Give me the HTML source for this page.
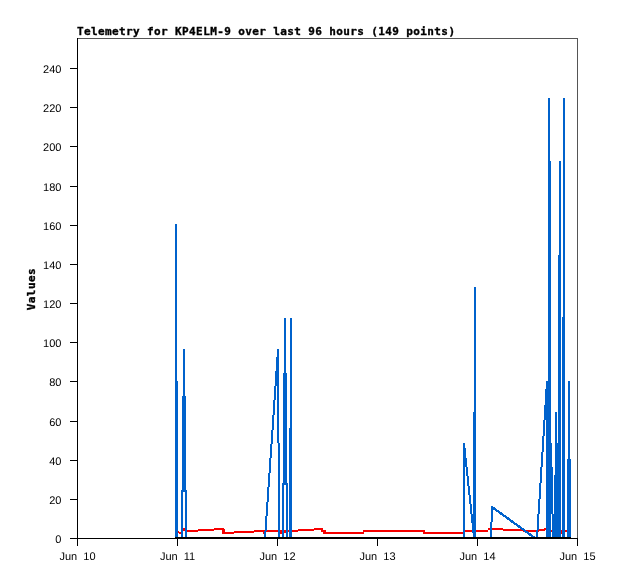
<!DOCTYPE html>
<html lang="en">
<head>
<meta charset="utf-8">
<title>Telemetry for KP4ELM-9</title>
<style>
html,body{margin:0;padding:0;background:#ffffff;}
body{width:618px;height:579px;overflow:hidden;}
svg{display:block;}
</style>
</head>
<body>
<svg width="618" height="579" viewBox="0 0 618 579" shape-rendering="crispEdges">
<rect x="0" y="0" width="618" height="579" fill="#ffffff"/>
<g fill="#f80000"><rect x="178" y="531" width="1" height="2"/><rect x="179" y="532" width="2" height="2"/><rect x="181" y="528" width="6" height="2"/><rect x="187" y="530" width="11" height="2"/><rect x="198" y="529" width="16" height="2"/><rect x="214" y="528" width="10" height="2"/><rect x="224" y="532" width="10" height="2"/><rect x="234" y="531" width="20" height="2"/><rect x="254" y="530" width="44" height="2"/><rect x="298" y="529" width="16" height="2"/><rect x="314" y="528" width="9" height="2"/><rect x="323" y="532" width="41" height="2"/><rect x="364" y="530" width="60" height="2"/><rect x="424" y="532" width="41" height="2"/><rect x="465" y="530" width="23" height="2"/><rect x="488" y="528" width="15" height="2"/><rect x="503" y="529" width="20" height="2"/><rect x="523" y="530" width="16" height="2"/><rect x="539" y="529" width="6" height="2"/><rect x="544" y="528" width="3" height="2"/><rect x="547" y="530" width="20" height="2"/><rect x="181" y="528" width="1" height="5"/><rect x="183" y="528" width="2" height="3"/><rect x="222" y="528" width="2" height="6"/><rect x="224" y="529" width="1" height="5"/><rect x="321" y="530" width="5" height="2"/><rect x="363" y="530" width="1" height="4"/><rect x="423" y="530" width="2" height="4"/><rect x="464" y="530" width="1" height="4"/><rect x="263" y="530" width="2" height="4"/><rect x="280" y="532" width="2" height="2"/><rect x="284" y="531" width="2" height="2"/><rect x="561" y="530" width="1" height="4"/></g>
<g fill="#0062cc"><rect x="175" y="224" width="2" height="313"/><rect x="177" y="381" width="1" height="156"/><rect x="183" y="349" width="2" height="47"/><rect x="182" y="396" width="4" height="94"/><rect x="181" y="490" width="6" height="2"/><rect x="181" y="490" width="2" height="47"/><rect x="185" y="490" width="2" height="47"/><rect x="277" y="349" width="2" height="8"/><rect x="276" y="357" width="2" height="14"/><rect x="275" y="371" width="2" height="15"/><rect x="274" y="386" width="2" height="14"/><rect x="273" y="400" width="2" height="15"/><rect x="272" y="415" width="2" height="15"/><rect x="271" y="430" width="2" height="14"/><rect x="270" y="444" width="2" height="14"/><rect x="269" y="458" width="2" height="15"/><rect x="268" y="473" width="2" height="14"/><rect x="267" y="487" width="2" height="15"/><rect x="266" y="502" width="2" height="14"/><rect x="265" y="516" width="2" height="15"/><rect x="264" y="531" width="2" height="6"/><rect x="277" y="349" width="2" height="94"/><rect x="278" y="443" width="2" height="94"/><rect x="284" y="318" width="2" height="55"/><rect x="283" y="373" width="4" height="111"/><rect x="282" y="483" width="6" height="2"/><rect x="282" y="484" width="2" height="53"/><rect x="286" y="484" width="2" height="53"/><rect x="290" y="318" width="2" height="110"/><rect x="289" y="428" width="3" height="109"/><rect x="463" y="443" width="2" height="94"/><rect x="463" y="443" width="2" height="5"/><rect x="464" y="448" width="2" height="10"/><rect x="465" y="458" width="2" height="9"/><rect x="466" y="467" width="2" height="9"/><rect x="467" y="476" width="2" height="10"/><rect x="468" y="486" width="2" height="9"/><rect x="469" y="495" width="2" height="9"/><rect x="470" y="504" width="2" height="10"/><rect x="471" y="514" width="2" height="9"/><rect x="472" y="523" width="2" height="10"/><rect x="473" y="533" width="2" height="4"/><rect x="474" y="287" width="2" height="125"/><rect x="473" y="412" width="3" height="125"/><rect x="491" y="506" width="2" height="16"/><rect x="490" y="522" width="2" height="15"/><rect x="546" y="381" width="2" height="8"/><rect x="545" y="389" width="2" height="16"/><rect x="544" y="405" width="2" height="15"/><rect x="543" y="420" width="2" height="16"/><rect x="542" y="436" width="2" height="16"/><rect x="541" y="452" width="2" height="15"/><rect x="540" y="467" width="2" height="16"/><rect x="539" y="483" width="2" height="16"/><rect x="538" y="499" width="2" height="15"/><rect x="537" y="514" width="2" height="16"/><rect x="536" y="530" width="2" height="7"/><rect x="546" y="381" width="5" height="8"/><rect x="545" y="389" width="6" height="16"/><rect x="544" y="405" width="7" height="15"/><rect x="548" y="98" width="2" height="63"/><rect x="548" y="161" width="3" height="220"/><rect x="546" y="381" width="5" height="156"/><rect x="551" y="443" width="1" height="71"/><rect x="552" y="467" width="1" height="47"/><rect x="555" y="412" width="2" height="31"/><rect x="555" y="443" width="6" height="32"/><rect x="554" y="475" width="7" height="39"/><rect x="552" y="514" width="9" height="23"/><rect x="559" y="161" width="2" height="94"/><rect x="558" y="255" width="3" height="282"/><rect x="563" y="98" width="2" height="219"/><rect x="562" y="317" width="3" height="220"/><rect x="568" y="381" width="2" height="78"/><rect x="567" y="459" width="4" height="78"/></g>
<clipPath id="c"><rect x="78" y="39" width="499" height="498"/></clipPath>
<line x1="492" y1="507" x2="536" y2="538.8" stroke="#0062cc" stroke-width="2.3" clip-path="url(#c)"/>
<rect x="175" y="537" width="396" height="2" fill="#000"/>
<rect x="77" y="38" width="501" height="1" fill="#555555"/>
<rect x="577" y="38" width="1" height="501" fill="#555555"/>
<rect x="77" y="38" width="1" height="501" fill="#000"/>
<rect x="77" y="538" width="501" height="1" fill="#000"/>
<g fill="#000"><rect x="70" y="538" width="7" height="1"/><rect x="70" y="499" width="7" height="1"/><rect x="70" y="460" width="7" height="1"/><rect x="70" y="421" width="7" height="1"/><rect x="70" y="381" width="7" height="1"/><rect x="70" y="342" width="7" height="1"/><rect x="70" y="303" width="7" height="1"/><rect x="70" y="264" width="7" height="1"/><rect x="70" y="225" width="7" height="1"/><rect x="70" y="186" width="7" height="1"/><rect x="70" y="146" width="7" height="1"/><rect x="70" y="107" width="7" height="1"/><rect x="70" y="68" width="7" height="1"/><rect x="77" y="538" width="1" height="8"/><rect x="177" y="538" width="1" height="8"/><rect x="277" y="538" width="1" height="8"/><rect x="377" y="538" width="1" height="8"/><rect x="477" y="538" width="1" height="8"/><rect x="577" y="538" width="1" height="8"/></g>
<g font-family="'Liberation Sans', sans-serif" font-size="11px" fill="#000" text-rendering="geometricPrecision">
<text x="61.4" y="543" text-anchor="end">0</text>
<text x="61.4" y="504" text-anchor="end">20</text>
<text x="61.4" y="465" text-anchor="end">40</text>
<text x="61.4" y="426" text-anchor="end">60</text>
<text x="61.4" y="386" text-anchor="end">80</text>
<text x="61.4" y="347" text-anchor="end">100</text>
<text x="61.4" y="308" text-anchor="end">120</text>
<text x="61.4" y="269" text-anchor="end">140</text>
<text x="61.4" y="230" text-anchor="end">160</text>
<text x="61.4" y="191" text-anchor="end">180</text>
<text x="61.4" y="151" text-anchor="end">200</text>
<text x="61.4" y="112" text-anchor="end">220</text>
<text x="61.4" y="73" text-anchor="end">240</text>
<text x="77.5" y="560" text-anchor="middle" word-spacing="3">Jun 10</text>
<text x="177.5" y="560" text-anchor="middle" word-spacing="3">Jun 11</text>
<text x="277.5" y="560" text-anchor="middle" word-spacing="3">Jun 12</text>
<text x="377.5" y="560" text-anchor="middle" word-spacing="3">Jun 13</text>
<text x="477.5" y="560" text-anchor="middle" word-spacing="3">Jun 14</text>
<text x="577.5" y="560" text-anchor="middle" word-spacing="3">Jun 15</text>
</g>
<g font-family="'DejaVu Sans Mono', 'Liberation Mono', monospace" font-weight="bold" font-size="11px" fill="#000" stroke="#000" stroke-width="0.35">
<text x="77" y="35" textLength="378" lengthAdjust="spacing">Telemetry for KP4ELM-9 over last 96 hours (149 points)</text>
<text transform="translate(35,310.3) rotate(-90)" textLength="42" lengthAdjust="spacing">Values</text>
</g>
</svg>
</body>
</html>
